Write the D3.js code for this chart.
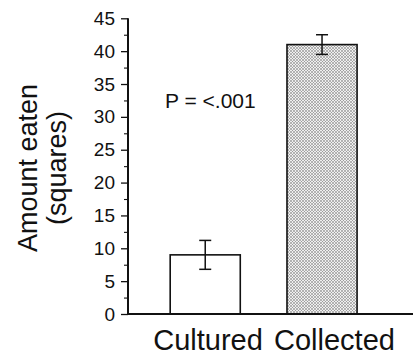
<!DOCTYPE html>
<html>
<head>
<meta charset="utf-8">
<script src="https://cdn.jsdelivr.net/npm/d3@7"></script>
<style>
html,body{margin:0;padding:0;background:#fff;}
svg{display:block;font-family:"Liberation Sans",Arial,sans-serif;}
</style>
</head>
<body>
<svg id="chart" width="414" height="357"></svg>
<script>
const categories = ["Cultured", "Collected"];
const means = [9.0, 41.0];
const errors = [2.2, 1.5];
const yTicks = [0, 5, 10, 15, 20, 25, 30, 35, 40, 45];
const yMinorTicks = [2.5, 7.5, 12.5, 17.5, 22.5, 27.5, 32.5, 37.5, 42.5];
const annotation = "P = <.001";
const yTitle = ["Amount eaten", "(squares)"];

const svg = d3.select("#chart");
const x0 = 128, x1 = 413, yTop = 18.3, yBot = 314;

const y = d3.scaleLinear().domain([0, 45]).range([yBot, yTop]);
const x = d3.scaleBand().domain(categories).range([x0, x1])
  .paddingInner(0.4).paddingOuter(0.42).align(0.43);

// crosshatch pattern
const defs = svg.append("defs");
const pat = defs.append("pattern").attr("id", "hatch")
  .attr("patternUnits", "userSpaceOnUse").attr("width", 3).attr("height", 3);
pat.append("rect").attr("width", 3).attr("height", 3).attr("fill", "#efefef");
pat.append("path").attr("d", "M-1,1 l2,-2 M0,3 l3,-3 M2,4 l2,-2")
  .attr("stroke", "#8a8a8a").attr("stroke-width", 0.6);
pat.append("path").attr("d", "M-1,2 l2,2 M0,0 l3,3 M2,-1 l2,2")
  .attr("stroke", "#8a8a8a").attr("stroke-width", 0.6);

// bars
svg.selectAll("rect.bar").data(categories).enter().append("rect")
  .attr("class", "bar")
  .attr("x", d => x(d))
  .attr("width", x.bandwidth())
  .attr("y", (d, i) => y(means[i]))
  .attr("height", (d, i) => y(0) - y(means[i]))
  .attr("fill", (d, i) => i === 0 ? "#fff" : "url(#hatch)")
  .attr("stroke", "#111").attr("stroke-width", 1.6);

// error bars
const eb = svg.selectAll("g.eb").data(categories).enter().append("g").attr("class", "eb")
  .attr("stroke", "#111").attr("stroke-width", 1.5);
eb.append("line")
  .attr("x1", d => x(d) + x.bandwidth() / 2).attr("x2", d => x(d) + x.bandwidth() / 2)
  .attr("y1", (d, i) => y(means[i] + errors[i])).attr("y2", (d, i) => y(means[i] - errors[i]));
eb.append("line")
  .attr("x1", d => x(d) + x.bandwidth() / 2 - 6).attr("x2", d => x(d) + x.bandwidth() / 2 + 6)
  .attr("y1", (d, i) => y(means[i] + errors[i])).attr("y2", (d, i) => y(means[i] + errors[i]));
eb.append("line")
  .attr("x1", d => x(d) + x.bandwidth() / 2 - 6).attr("x2", d => x(d) + x.bandwidth() / 2 + 6)
  .attr("y1", (d, i) => y(means[i] - errors[i])).attr("y2", (d, i) => y(means[i] - errors[i]));

// y axis
const yAxis = d3.axisLeft(y).tickValues(yTicks).tickSize(7).tickPadding(6).tickFormat(d3.format("d"));
const gy = svg.append("g").attr("transform", `translate(${x0},0)`).call(yAxis);
gy.select(".domain").remove();
gy.selectAll(".tick line").attr("stroke", "#111").attr("stroke-width", 1.3);
gy.selectAll(".tick text").attr("font-size", 19).attr("fill", "#111")
  .attr("font-family", "'Liberation Sans', Arial, sans-serif");
const gyMinor = svg.append("g").attr("transform", `translate(${x0},0)`)
  .call(d3.axisLeft(y).tickValues(yMinorTicks).tickSize(4).tickFormat(""));
gyMinor.select(".domain").remove();
gyMinor.selectAll(".tick line").attr("stroke", "#111").attr("stroke-width", 1.1);

svg.append("line").attr("x1", x0).attr("x2", x0).attr("y1", yTop).attr("y2", yBot + 1)
  .attr("stroke", "#111").attr("stroke-width", 2);
svg.append("line").attr("x1", x0 - 1).attr("x2", x1).attr("y1", yBot).attr("y2", yBot)
  .attr("stroke", "#111").attr("stroke-width", 2);

// category labels
svg.selectAll("text.cat").data(categories).enter().append("text")
  .attr("class", "cat")
  .attr("x", (d, i) => x(d) - 17 + i * 4)
  .attr("y", 350)
  .attr("text-anchor", "start")
  .attr("font-size", 29).attr("fill", "#111")
  .text(d => d);

// annotation
svg.append("text").attr("x", 165).attr("y", 108)
  .attr("font-size", 21).attr("fill", "#111").text(annotation);

// y title
svg.append("text").attr("transform", "translate(37,168) rotate(-90)")
  .attr("text-anchor", "middle").attr("font-size", 27).attr("fill", "#111").text(yTitle[0]);
svg.append("text").attr("transform", "translate(66,168) rotate(-90)")
  .attr("text-anchor", "middle").attr("font-size", 27).attr("fill", "#111").text(yTitle[1]);
</script>
</body>
</html>
